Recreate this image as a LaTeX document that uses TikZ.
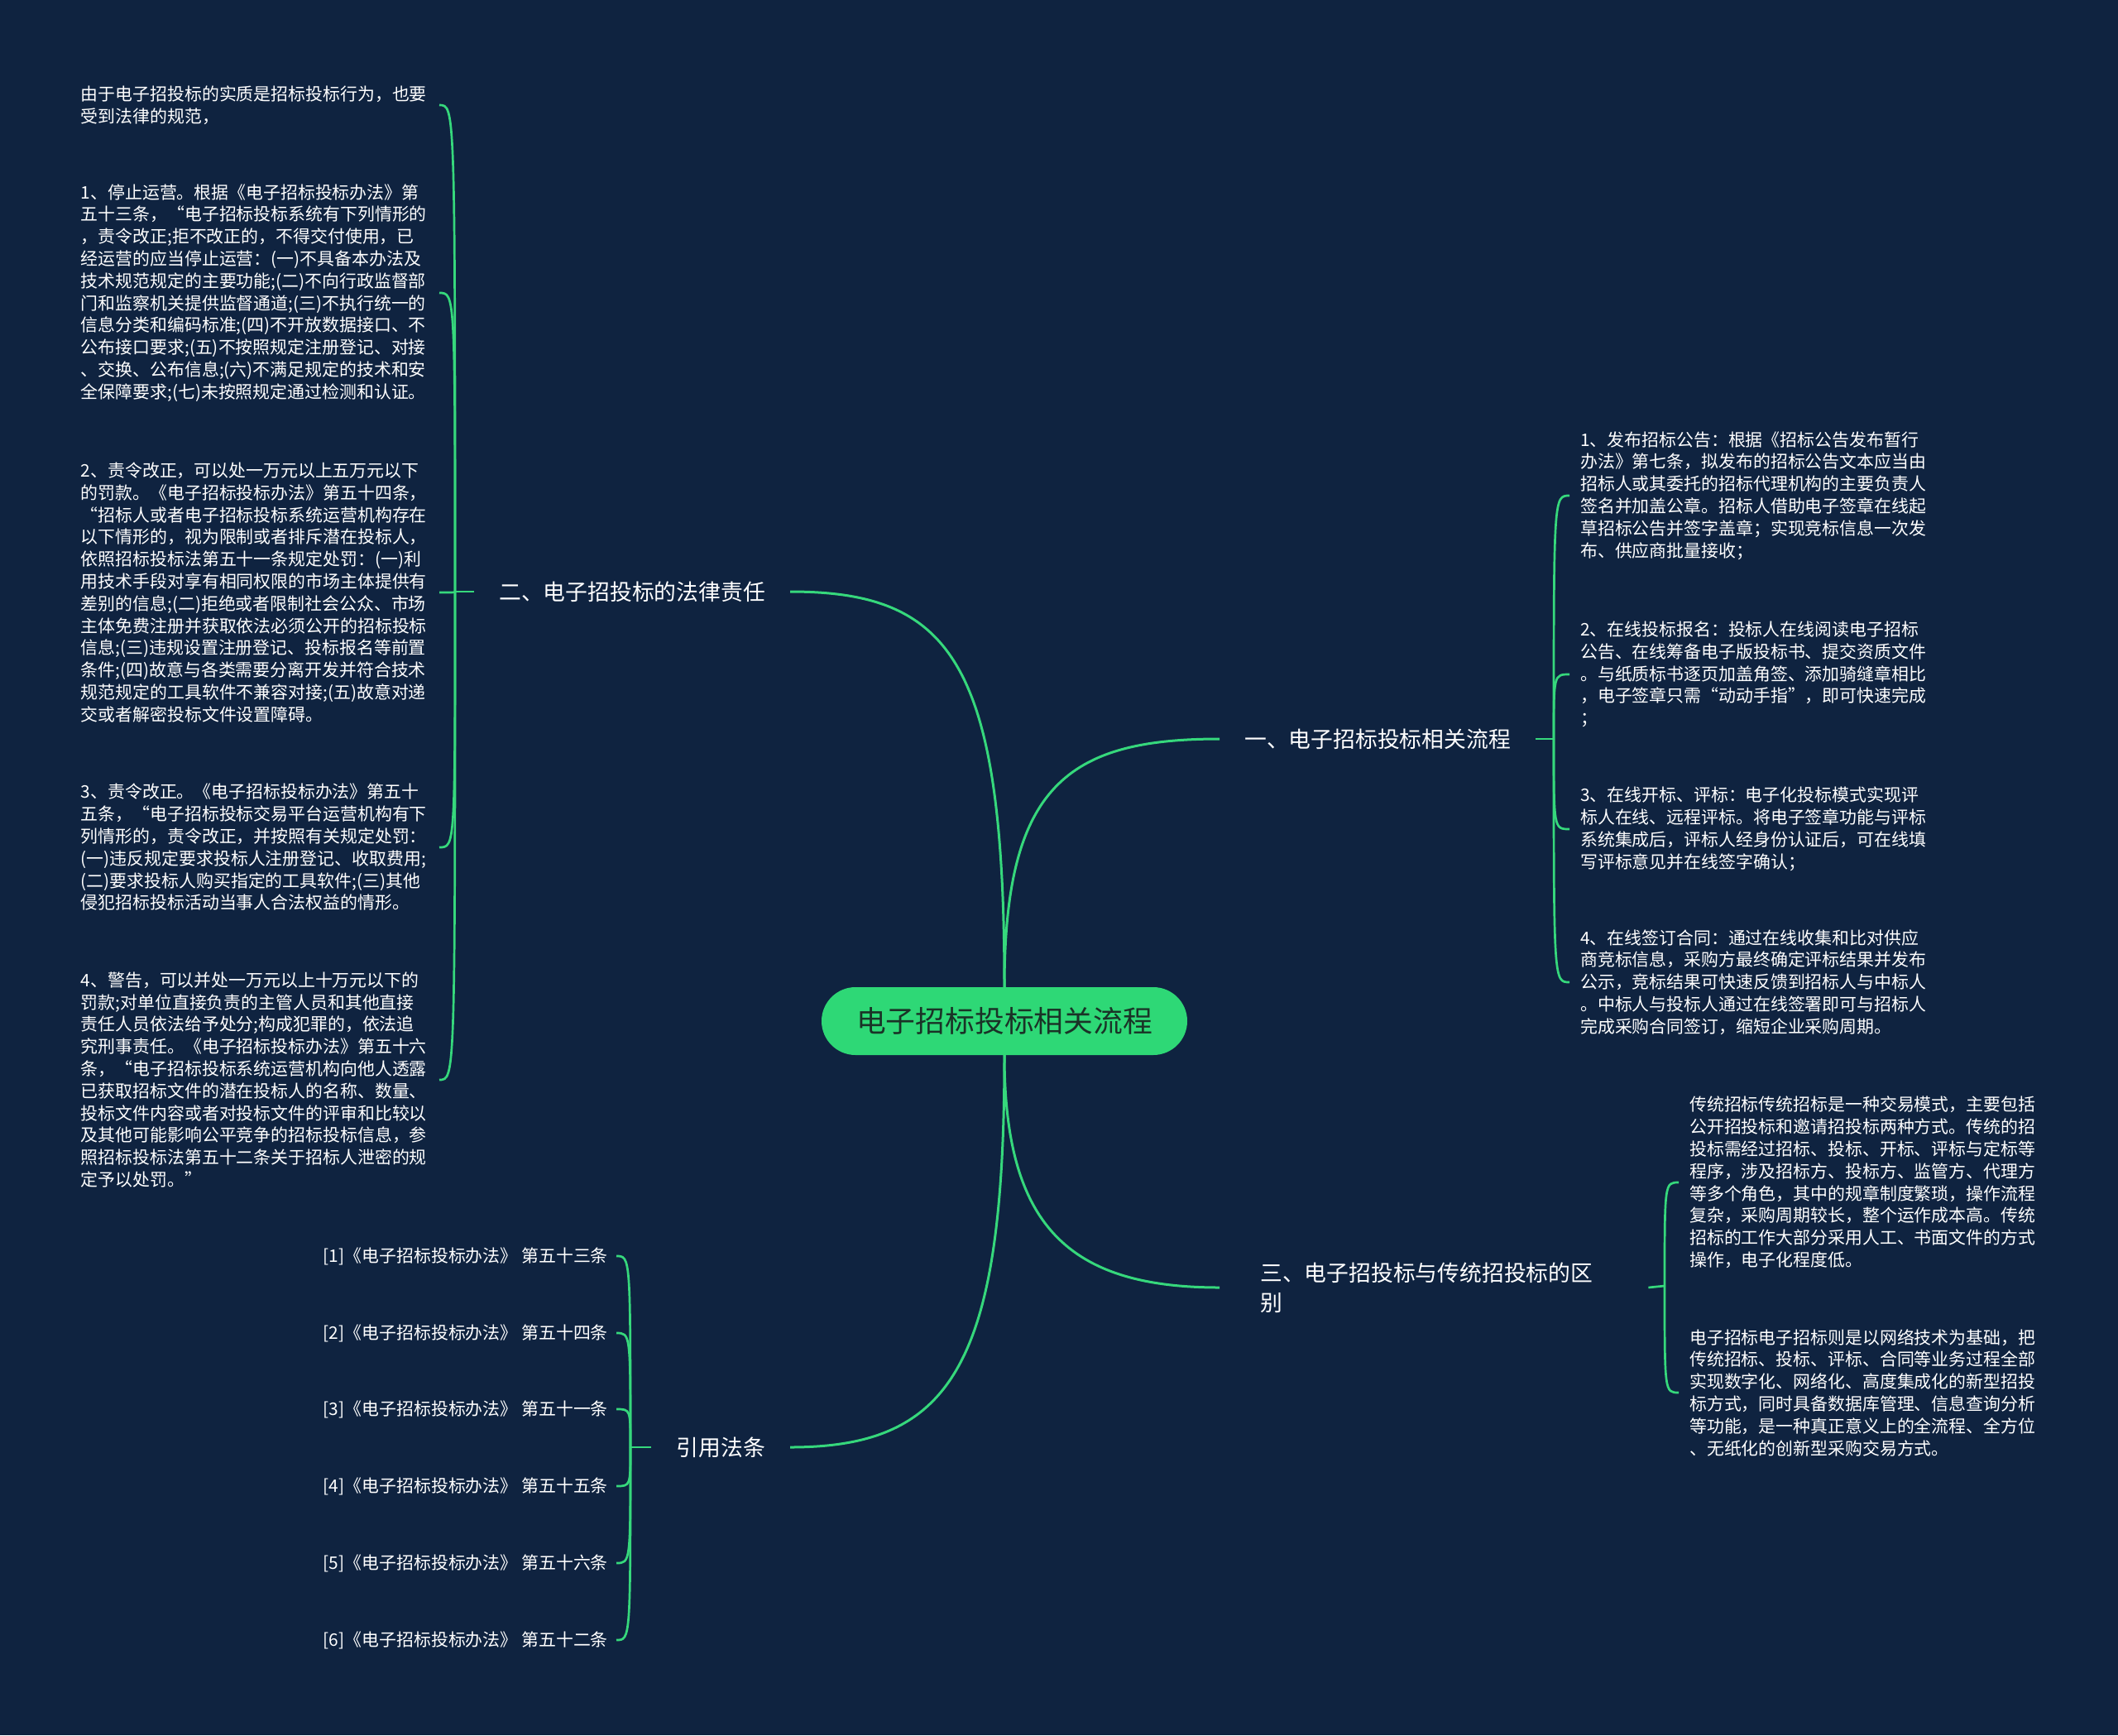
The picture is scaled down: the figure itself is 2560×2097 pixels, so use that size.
\documentclass[tikz,border=0pt]{standalone}
\usepackage{fontspec}
\setmainfont{Noto Sans CJK SC}
\usepackage{tikz}
\newcommand{\LeafFont}{\fontsize{20.9}{26.8}\selectfont}
\newcommand{\BranchFont}{\fontsize{26.8}{36}\selectfont}
\newcommand{\RootFont}{\fontsize{35.8}{42}\selectfont}
\definecolor{mapnavy}{HTML}{0F2340}
\definecolor{mapgreen}{HTML}{36D87C}
\definecolor{rootgreen}{HTML}{2ED876}
\definecolor{rootink}{HTML}{1A3327}
\newcommand{\Twig}[2]{%
  \draw[twig] (#1) .. controls (#1 |- #2) .. (#2);
}

\begin{document}
\begin{tikzpicture}[x=1pt,y=-1pt,text=white,
  rootbox/.style={fill=rootgreen,rounded corners=41pt,minimum width=442pt,minimum height=82pt,
    text=rootink,font=\RootFont,inner sep=0pt},
  branch/.style={font=\BranchFont,inner xsep=30pt,inner ysep=0pt,align=left},
  leaf/.style={font=\LeafFont,text width=420pt,align=left,inner xsep=13pt,inner ysep=0pt},
  ref/.style={font=\LeafFont,inner xsep=10pt,inner ysep=0pt},
  trunk/.style={draw=mapgreen,line width=3pt},
  twig/.style={draw=mapgreen,line width=2.7pt}]
  \fill[mapnavy] (0,0) rectangle (2560,2097);
  \useasboundingbox (0,0) rectangle (2560,2097);

  \node[rootbox] (root) at (1214,1234) {电子招标投标相关流程};
  \node[branch,anchor=west] (flow) at (1474,893) {一、电子招标投标相关流程};
  \node[branch,anchor=east] (law) at (955,715) {二、电子招投标的法律责任};
  \node[branch,anchor=west,text width=420pt,inner xsep=49pt] (diff) at (1474,1556)
    {三、电子招投标与传统招投标的区\\别};
  \node[branch,anchor=east] (cite) at (955,1749) {引用法条};

  \draw[trunk] (root.north) .. controls (1214,950) and (1290,893) .. (flow.west);
  \draw[trunk] (root.north) .. controls (1214,800) and (1150,715) .. (law.east);
  \draw[trunk] (root.south) .. controls (1214,1480) and (1290,1556) .. (diff.west);
  \draw[trunk] (root.south) .. controls (1214,1650) and (1150,1749) .. (cite.east);

  \coordinate (J1) at (1878,893);
  \coordinate (J2) at (550,715);
  \coordinate (J3) at (2012,1554);
  \coordinate (J4) at (762,1749);
  \draw[twig] (flow.east) -- (J1);
  \draw[twig] (law.west) -- (J2);
  \draw[twig] (diff.east) -- (J3);
  \draw[twig] (cite.west) -- (J4);

  % 一、流程
  \node[leaf,anchor=west] (f1) at (1897,599) {1、发布招标公告：根据《招标公告发布暂行\\办法》第七条，拟发布的招标公告文本应当由\\招标人或其委托的招标代理机构的主要负责人\\签名并加盖公章。招标人借助电子签章在线起\\草招标公告并签字盖章；实现竞标信息一次发\\布、供应商批量接收；};
  \node[leaf,anchor=west] (f2) at (1897,815) {2、在线投标报名：投标人在线阅读电子招标\\公告、在线筹备电子版投标书、提交资质文件\\。与纸质标书逐页加盖角签、添加骑缝章相比\\，电子签章只需“动动手指”，即可快速完成\\；};
  \node[leaf,anchor=west] (f3) at (1897,1002) {3、在线开标、评标：电子化投标模式实现评\\标人在线、远程评标。将电子签章功能与评标\\系统集成后，评标人经身份认证后，可在线填\\写评标意见并在线签字确认；};
  \node[leaf,anchor=west] (f4) at (1897,1187) {4、在线签订合同：通过在线收集和比对供应\\商竞标信息，采购方最终确定评标结果并发布\\公示，竞标结果可快速反馈到招标人与中标人\\。中标人与投标人通过在线签署即可与招标人\\完成采购合同签订，缩短企业采购周期。};
  \foreach \n in {f1,f2,f3,f4} {\Twig{J1}{\n.west}}

  % 三、区别
  \node[leaf,anchor=west] (d1) at (2029,1429) {传统招标传统招标是一种交易模式，主要包括\\公开招投标和邀请招投标两种方式。传统的招\\投标需经过招标、投标、开标、评标与定标等\\程序，涉及招标方、投标方、监管方、代理方\\等多个角色，其中的规章制度繁琐，操作流程\\复杂，采购周期较长，整个运作成本高。传统\\招标的工作大部分采用人工、书面文件的方式\\操作，电子化程度低。};
  \node[leaf,anchor=west] (d2) at (2029,1683) {电子招标电子招标则是以网络技术为基础，把\\传统招标、投标、评标、合同等业务过程全部\\实现数字化、网络化、高度集成化的新型招投\\标方式，同时具备数据库管理、信息查询分析\\等功能，是一种真正意义上的全流程、全方位\\、无纸化的创新型采购交易方式。};
  \foreach \n in {d1,d2} {\Twig{J3}{\n.west}}

  % 二、法律责任
  \node[leaf,anchor=east] (l0) at (531,127) {由于电子招投标的实质是招标投标行为，也要\\受到法律的规范，};
  \node[leaf,anchor=east] (l1) at (531,354) {1、停止运营。根据《电子招标投标办法》第\\五十三条，“电子招标投标系统有下列情形的\\，责令改正;拒不改正的，不得交付使用，已\\经运营的应当停止运营：(一)不具备本办法及\\技术规范规定的主要功能;(二)不向行政监督部\\门和监察机关提供监督通道;(三)不执行统一的\\信息分类和编码标准;(四)不开放数据接口、不\\公布接口要求;(五)不按照规定注册登记、对接\\、交换、公布信息;(六)不满足规定的技术和安\\全保障要求;(七)未按照规定通过检测和认证。};
  \node[leaf,anchor=east] (l2) at (531,716) {2、责令改正，可以处一万元以上五万元以下\\的罚款。《电子招标投标办法》第五十四条，\\“招标人或者电子招标投标系统运营机构存在\\以下情形的，视为限制或者排斥潜在投标人，\\依照招标投标法第五十一条规定处罚：(一)利\\用技术手段对享有相同权限的市场主体提供有\\差别的信息;(二)拒绝或者限制社会公众、市场\\主体免费注册并获取依法必须公开的招标投标\\信息;(三)违规设置注册登记、投标报名等前置\\条件;(四)故意与各类需要分离开发并符合技术\\规范规定的工具软件不兼容对接;(五)故意对递\\交或者解密投标文件设置障碍。};
  \node[leaf,anchor=east] (l3) at (531,1024) {3、责令改正。《电子招标投标办法》第五十\\五条，“电子招标投标交易平台运营机构有下\\列情形的，责令改正，并按照有关规定处罚：\\(一)违反规定要求投标人注册登记、收取费用;\\(二)要求投标人购买指定的工具软件;(三)其他\\侵犯招标投标活动当事人合法权益的情形。};
  \node[leaf,anchor=east] (l4) at (531,1305) {4、警告，可以并处一万元以上十万元以下的\\罚款;对单位直接负责的主管人员和其他直接\\责任人员依法给予处分;构成犯罪的，依法追\\究刑事责任。《电子招标投标办法》第五十六\\条，“电子招标投标系统运营机构向他人透露\\已获取招标文件的潜在投标人的名称、数量、\\投标文件内容或者对投标文件的评审和比较以\\及其他可能影响公平竞争的招标投标信息，参\\照招标投标法第五十二条关于招标人泄密的规\\定予以处罚。”};
  \foreach \n in {l0,l1,l2,l3,l4} {\Twig{J2}{\n.east}}

  % 引用法条
  \node[ref,anchor=east] (q1) at (745,1518) {[1]《电子招标投标办法》 第五十三条};
  \node[ref,anchor=east] (q2) at (745,1611) {[2]《电子招标投标办法》 第五十四条};
  \node[ref,anchor=east] (q3) at (745,1703) {[3]《电子招标投标办法》 第五十一条};
  \node[ref,anchor=east] (q4) at (745,1796) {[4]《电子招标投标办法》 第五十五条};
  \node[ref,anchor=east] (q5) at (745,1889) {[5]《电子招标投标办法》 第五十六条};
  \node[ref,anchor=east] (q6) at (745,1982) {[6]《电子招标投标办法》 第五十二条};
  \foreach \n in {q1,q2,q3,q4,q5,q6} {\Twig{J4}{\n.east}}
\end{tikzpicture}
\end{document}
